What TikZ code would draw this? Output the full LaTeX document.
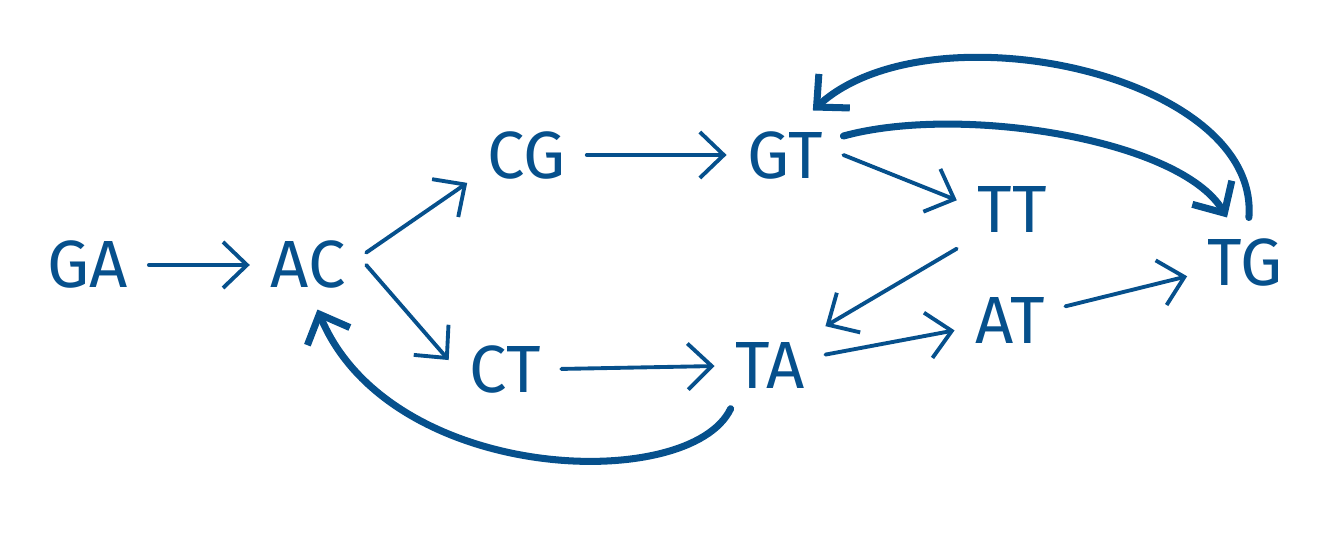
\documentclass[tikz,border=0pt]{standalone}
\usepackage{fontspec}
\setmainfont{Fira Sans}
\definecolor{GraphBlue}{RGB}{6,80,140}
\usetikzlibrary{arrows.meta, positioning}

\tikzset{
	kmer/.style={text=GraphBlue, font=\fontsize{19}{20}\selectfont, inner sep=0.2cm},
	link/.style={draw=GraphBlue, line width=1.1pt, line cap=round,
		-{Straight Barb[length=2.4mm,width=4.6mm]}},
	looplink/.style={link, line width=2pt}
}

\begin{document}
\begin{tikzpicture}
\useasboundingbox (0,0) rectangle (13.3,5.34);
% nodes
\node[kmer] (ga) at (0.88,2.69){GA};
\node[kmer] (ac) at (3.08,2.69){AC};
\node[kmer] (cg) at (5.27,3.79){CG};
\node[kmer] (gt) at (7.85,3.79){GT};
\node[kmer] (tt) at (10.12,3.24){TT};
\node[kmer] (tg) at (12.45,2.72){TG};
\node[kmer] (ct) at (5.05,1.64){CT};
\node[kmer] (ta) at (7.70,1.69){TA};
\node[kmer] (at) at (10.10,2.14){AT};

% straight edges
\draw[link] (ga) -- (ac);
\draw[link] (ac.12) -- (cg.205);
\draw[link] (ac.east) -- (ct.170);
\draw[link] (cg) -- (gt);
\draw[link] (gt.east) -- (tt.170);
\draw[link] (tt.215) -- (ta.35);
\draw[link] (ct) -- (ta);
\draw[link] (ta) -- (at);
\draw[link] (at) -- (tg);

% curved edges
\draw[looplink] (gt.18) .. controls (9.6,4.3) and (11.8,3.95) .. (tg.112);
\draw[looplink] (tg.85) .. controls (12.6,4.6) and (9.3,5.3) .. (gt.58);
\draw[looplink] (ta.228) .. controls (6.9,0.4) and (3.9,0.5) .. (ac.-78);
\end{tikzpicture}
\end{document}
